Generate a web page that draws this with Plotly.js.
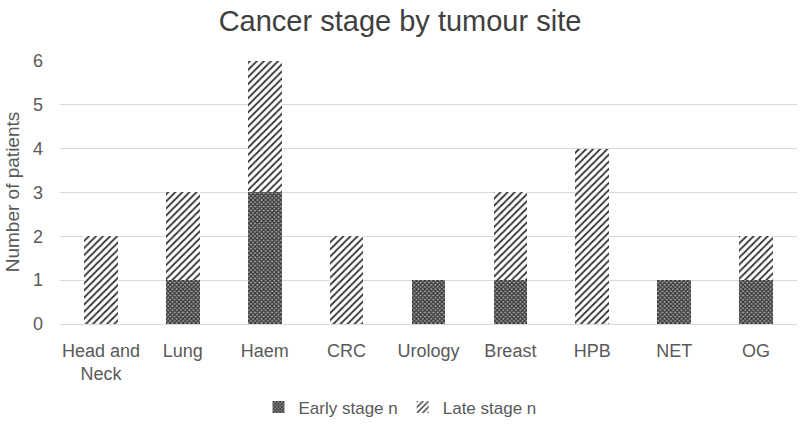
<!DOCTYPE html>
<html><head><meta charset="utf-8">
<script src="https://cdn.plot.ly/plotly-3.0.1.min.js"></script>
<style>html,body{margin:0;padding:0;background:#fff}#c{width:800px;height:429px}</style>
</head><body><div id="c"></div>
<script>
const categories = ["Head and<br>Neck","Lung","Haem","CRC","Urology","Breast","HPB","NET","OG"];
const earlyStage = [0,1,3,0,1,1,0,1,1];
const lateStage  = [2,2,3,2,0,2,4,0,1];
const yTicks = [0,1,2,3,4,5,6];

const traces = [
  {type:"bar", name:"Early stage n", x:categories, y:earlyStage,
   marker:{color:"#ffffff", line:{width:0},
     pattern:{shape:"x", fgcolor:"#333333", bgcolor:"#a0a0a0", size:3, solidity:0.6}}},
  {type:"bar", name:"Late stage n", x:categories, y:lateStage,
   marker:{color:"#ffffff", line:{width:0},
     pattern:{shape:"/", fgcolor:"#333333", bgcolor:"#ffffff", size:5, solidity:0.35}}}
];
const layout = {
  width:800, height:429, barmode:"stack", bargap:0.59,
  paper_bgcolor:"#fff", plot_bgcolor:"#fff",
  margin:{l:60,r:3,t:60,b:105},
  font:{family:"Liberation Sans, Arial, sans-serif", color:"#595959", size:18},
  title:{text:"Cancer stage by tumour site", x:0.5, xanchor:"center", y:0.975, yanchor:"top",
    font:{size:29, color:"#404040", family:"Liberation Sans, Arial, sans-serif"}},
  xaxis:{showgrid:false, zeroline:false, showline:false, ticks:"", ticklabelstandoff:14, automargin:false,
    tickfont:{size:18, color:"#595959"}},
  yaxis:{range:[0,6.02], tickvals:yTicks, gridcolor:"#d9d9d9", gridwidth:1, zeroline:true, zerolinecolor:"#d9d9d9",
    showline:false, ticks:"", ticklabelstandoff:16, automargin:false, tickfont:{size:18, color:"#595959"},
    title:{text:"Number of patients", standoff:8, font:{size:19, color:"#595959"}}},
  legend:{orientation:"h", x:0.5, xanchor:"center", xref:"container", yref:"container", y:0.05, yanchor:"middle",
    font:{size:17, color:"#595959"}, traceorder:"normal", itemwidth:30},
  showlegend:true
};
Plotly.newPlot("c", traces, layout, {displayModeBar:false, staticPlot:true});
</script></body></html>
